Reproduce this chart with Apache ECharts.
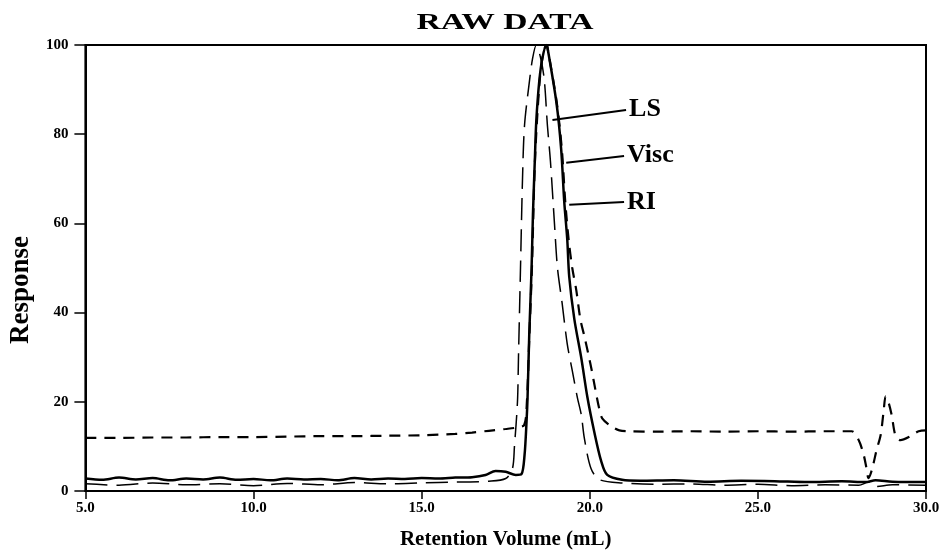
<!DOCTYPE html>
<html>
<head>
<meta charset="utf-8">
<script src="https://cdn.jsdelivr.net/npm/echarts@6/dist/echarts.min.js"></script>
<style>
  html, body { margin: 0; padding: 0; background: #fff; }
  #chart { width: 947px; height: 557px; }
</style>
</head>
<body>
<div id="chart"></div>
<script>
// ---- data (retention volume mL, response) ----
const titleText = 'RAW DATA';
const xAxisName = 'Retention Volume (mL)';
const yAxisName = 'Response';
const seriesNames = ['RI', 'LS', 'Visc'];

const lsData = [
  [5.0,1.6],[6.0,1.3],[7.0,1.8],[8.0,1.4],[9.0,1.6],[10.0,1.2],[11.0,1.7],[12.0,1.4],
  [13.0,1.9],[14.0,1.6],[15.0,1.8],[16.0,2.0],[17.0,2.2],[17.5,2.8],[17.7,5],[17.76,10],
  [17.85,20],[17.88,30],[17.94,50],[18.0,70],[18.06,82],[18.2,91.5],[18.3,97],[18.41,100],
  [18.55,96.7],[18.65,92],[18.74,82],[18.83,74],[18.95,60],[19.04,50],[19.18,42],[19.33,33],
  [19.48,27],[19.63,21],[19.75,17],[19.84,11.8],[20.04,5],[20.3,2.5],[21.0,1.8],[22.0,1.5],
  [23.0,1.6],[24.0,1.3],[25.0,1.5],[26.0,1.2],[27.0,1.4],[28.0,1.3],[28.3,2.0],[28.5,1.0],
  [29.0,1.4],[30.0,1.3]
];

const viscData = [
  [5.0,2.8],[5.5,2.5],[6.0,3.0],[6.5,2.6],[7.0,2.9],[7.5,2.4],[8.0,2.8],[8.5,2.6],[9.0,3.0],
  [9.5,2.5],[10.0,2.7],[10.5,2.4],[11.0,2.8],[11.5,2.6],[12.0,2.7],[12.5,2.4],[13.0,2.9],
  [13.5,2.6],[14.0,2.8],[14.5,2.7],[15.0,2.9],[15.5,2.8],[16.0,3.0],[16.5,3.1],[16.9,3.6],
  [17.2,4.5],[17.5,4.3],[17.8,3.6],[17.97,3.8],[18.06,8],[18.12,15.6],[18.15,21],[18.2,35],
  [18.27,50],[18.31,62],[18.37,75],[18.41,83],[18.5,92],[18.59,97],[18.71,100],[18.74,99.5],
  [19.01,87],[19.15,76.6],[19.24,65],[19.33,56.5],[19.39,48],[19.54,38.6],[19.75,29.7],
  [19.93,21],[20.13,13.4],[20.34,6.7],[20.52,3.6],[20.96,2.5],[21.5,2.3],[22.5,2.4],[23.5,2.1],
  [24.5,2.3],[25.5,2.2],[26.5,2.0],[27.5,2.2],[28.2,2.0],[28.5,2.4],[29.0,2.1],[30.0,2.0]
];

const riData = [
  [5.0,11.9],[6.0,11.9],[7.0,12.0],[8.0,12.0],[9.0,12.1],[10.0,12.1],[11.0,12.2],[12.0,12.3],
  [13.0,12.3],[14.0,12.4],[15.0,12.5],[16.0,12.8],[16.5,13.1],[17.0,13.5],[17.5,13.9],
  [17.8,14.2],[18.05,14.8],[18.13,20],[18.2,34],[18.28,50],[18.37,74],[18.5,91],[18.6,97.5],
  [18.71,100],[18.74,99.5],[19.02,87],[19.17,76.6],[19.27,65],[19.37,56.5],[19.48,50],
  [19.6,45],[19.72,38.5],[19.84,34.7],[19.96,30.6],[20.06,27],[20.16,23],[20.28,18.5],
  [20.37,16.3],[20.64,14.5],[20.88,13.6],[21.23,13.4],[22.0,13.3],[23.0,13.4],[24.0,13.3],
  [25.0,13.4],[26.0,13.3],[27.0,13.4],[27.79,13.4],[28.0,11.4],[28.15,8],[28.23,5.1],
  [28.29,2.9],[28.4,5],[28.53,9.2],[28.65,12.5],[28.74,17.9],[28.8,21.2],[28.88,20],
  [28.98,17],[29.09,12.5],[29.24,11.4],[29.54,12.3],[29.78,13.4],[30.0,13.6]
];

const xTicks = [5, 10, 15, 20, 25, 30];
const yTicks = [0, 20, 40, 60, 80, 100];

// ---- chart ----
const FONT = "'Liberation Serif', 'Times New Roman', serif";
const chart = echarts.init(document.getElementById('chart'), null, { renderer: 'canvas' });

function leader(from, to, name) {
  return {
    silent: true,
    symbol: ['none', 'none'],
    lineStyle: { color: '#000', width: 2, type: 'solid' },
    label: {
      show: true, position: 'end', distance: 3, formatter: name,
      color: '#000', fontFamily: FONT, fontWeight: 'bold', fontSize: 26
    },
    data: [[{ coord: from }, { coord: to }]]
  };
}

const option = {
  animation: false,
  backgroundColor: '#fff',
  grid: {
    left: 85, right: 21, top: 45, bottom: 66,
    show: true, borderColor: '#000', borderWidth: 2, backgroundColor: 'transparent'
  },
  graphic: [{
    type: 'text', x: 505, y: 35, scaleX: 1.4,
    style: {
      text: titleText, fill: '#000', textAlign: 'center', textVerticalAlign: 'bottom',
      font: "bold 24px 'Liberation Serif', serif"
    }
  }],
  xAxis: {
    type: 'value', min: xTicks[0], max: xTicks[xTicks.length - 1], interval: 5,
    name: xAxisName, nameLocation: 'middle', nameGap: 38,
    nameTextStyle: { color: '#000', fontFamily: FONT, fontWeight: 'bold', fontSize: 21 },
    axisLine: { show: true, lineStyle: { color: '#000', width: 2 } },
    axisTick: { show: true, inside: false, length: 8, lineStyle: { color: '#000', width: 1.5 } },
    axisLabel: {
      color: '#000', fontFamily: FONT, fontWeight: 'bold', fontSize: 15, margin: 10,
      formatter: v => v.toFixed(1)
    },
    splitLine: { show: false }
  },
  yAxis: {
    type: 'value', min: yTicks[0], max: yTicks[yTicks.length - 1], interval: 20,
    name: yAxisName, nameLocation: 'middle', nameGap: 44, nameRotate: 90,
    nameTextStyle: {
      color: '#000', fontFamily: FONT, fontWeight: 'bold', fontSize: 27,
      padding: [0, 44, 0, 0]
    },
    axisLine: { show: true, lineStyle: { color: '#000', width: 2 } },
    axisTick: { show: true, inside: false, length: 11, lineStyle: { color: '#000', width: 1.5 } },
    axisLabel: { color: '#000', fontFamily: FONT, fontWeight: 'bold', fontSize: 15, margin: 17 },
    splitLine: { show: false }
  },
  series: [
    {
      name: seriesNames[0], type: 'line', data: riData, showSymbol: false, smooth: 0.3,
      lineStyle: { color: '#000', width: 2.2, type: [11, 8] },
      markLine: leader([19.39, 64.2], [21.02, 64.8], 'RI')
    },
    {
      name: seriesNames[1], type: 'line', data: lsData, showSymbol: false, smooth: 0.3,
      lineStyle: { color: '#000', width: 1.5, type: [22, 9] },
      markLine: leader([18.89, 83.2], [21.08, 85.4], 'LS')
    },
    {
      name: seriesNames[2], type: 'line', data: viscData, showSymbol: false, smooth: 0.3,
      lineStyle: { color: '#000', width: 2.5, type: 'solid' },
      markLine: leader([19.30, 73.6], [21.02, 75.1], 'Visc')
    }
  ]
};
chart.setOption(option);
</script>
</body>
</html>
